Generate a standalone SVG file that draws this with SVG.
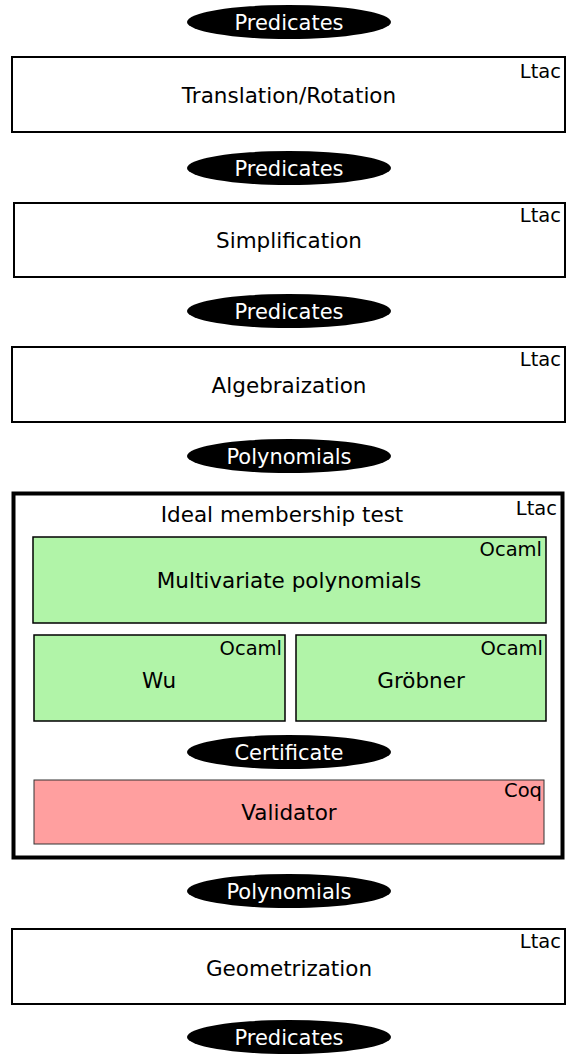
<svg xmlns="http://www.w3.org/2000/svg" width="566" height="1057" viewBox="0 0 566 1057">
<style>
  .bg { fill: #ffffff; }
  .box { fill: #ffffff; stroke: #000000; stroke-width: 2; }
  .big { fill: #ffffff; stroke: #000000; stroke-width: 4; }
  .ocaml { fill: #b1f4a8; stroke: #000000; stroke-width: 1.5; }
  .coq { fill: #ff9f9f; stroke: #333333; stroke-width: 1; }
  .data { fill: #000000; }
  text { font-family: "DejaVu Sans", sans-serif; fill: #000000; }
  .lbl { font-size: 21.5px; text-anchor: middle; }
  .dlbl { font-size: 21px; text-anchor: middle; fill: #ffffff; }
  .lang { font-size: 19.5px; text-anchor: end; }
</style>
<rect class="bg" x="0" y="0" width="566" height="1057"/>
<g id="connectors"></g>
<g id="data-predicates-1"><ellipse class="data" cx="289" cy="22" rx="102" ry="17"/><text class="dlbl" x="289" y="29.5">Predicates</text></g>
<g id="translation-rotation"><rect class="box" x="12" y="57" width="553" height="75"/><text class="lbl" x="289" y="102.5">Translation/Rotation</text><text class="lang" x="561" y="78">Ltac</text></g>
<g id="data-predicates-2"><ellipse class="data" cx="289" cy="168" rx="102" ry="17"/><text class="dlbl" x="289" y="175.5">Predicates</text></g>
<g id="simplification"><rect class="box" x="14" y="203" width="551" height="74"/><text class="lbl" x="289" y="247.5">Simplification</text><text class="lang" x="561" y="222">Ltac</text></g>
<g id="data-predicates-3"><ellipse class="data" cx="289" cy="311" rx="102" ry="17"/><text class="dlbl" x="289" y="318.5">Predicates</text></g>
<g id="algebraization"><rect class="box" x="12" y="347" width="553" height="75"/><text class="lbl" x="289" y="392.5">Algebraization</text><text class="lang" x="561" y="366">Ltac</text></g>
<g id="data-polynomials-1"><ellipse class="data" cx="289" cy="456" rx="102" ry="17"/><text class="dlbl" x="289" y="463.5">Polynomials</text></g>
<g id="ideal-membership-test"><rect class="big" x="13.5" y="493.5" width="549" height="364"/><text class="lbl" x="282" y="521.5">Ideal membership test</text><text class="lang" x="557" y="515">Ltac</text></g>
<g id="multivariate-polynomials"><rect class="ocaml" x="33" y="537" width="513" height="86"/><text class="lbl" x="289" y="587.5">Multivariate polynomials</text><text class="lang" x="542" y="556">Ocaml</text></g>
<g id="wu"><rect class="ocaml" x="34" y="635" width="251" height="86"/><text class="lbl" x="159" y="687.5">Wu</text><text class="lang" x="282" y="655">Ocaml</text></g>
<g id="grobner"><rect class="ocaml" x="296" y="635" width="250" height="86"/><text class="lbl" x="421" y="687.5">Gröbner</text><text class="lang" x="543" y="655">Ocaml</text></g>
<g id="data-certificate"><ellipse class="data" cx="289" cy="752" rx="102" ry="17"/><text class="dlbl" x="289" y="759.5">Certificate</text></g>
<g id="validator"><rect class="coq" x="34" y="780" width="510" height="64"/><text class="lbl" x="289" y="819.5">Validator</text><text class="lang" x="542" y="797">Coq</text></g>
<g id="data-polynomials-2"><ellipse class="data" cx="289" cy="891" rx="102" ry="17"/><text class="dlbl" x="289" y="898.5">Polynomials</text></g>
<g id="geometrization"><rect class="box" x="12" y="929" width="553" height="75"/><text class="lbl" x="289" y="975.5">Geometrization</text><text class="lang" x="561" y="948">Ltac</text></g>
<g id="data-predicates-4"><ellipse class="data" cx="289" cy="1037" rx="102" ry="17"/><text class="dlbl" x="289" y="1044.5">Predicates</text></g>
</svg>
